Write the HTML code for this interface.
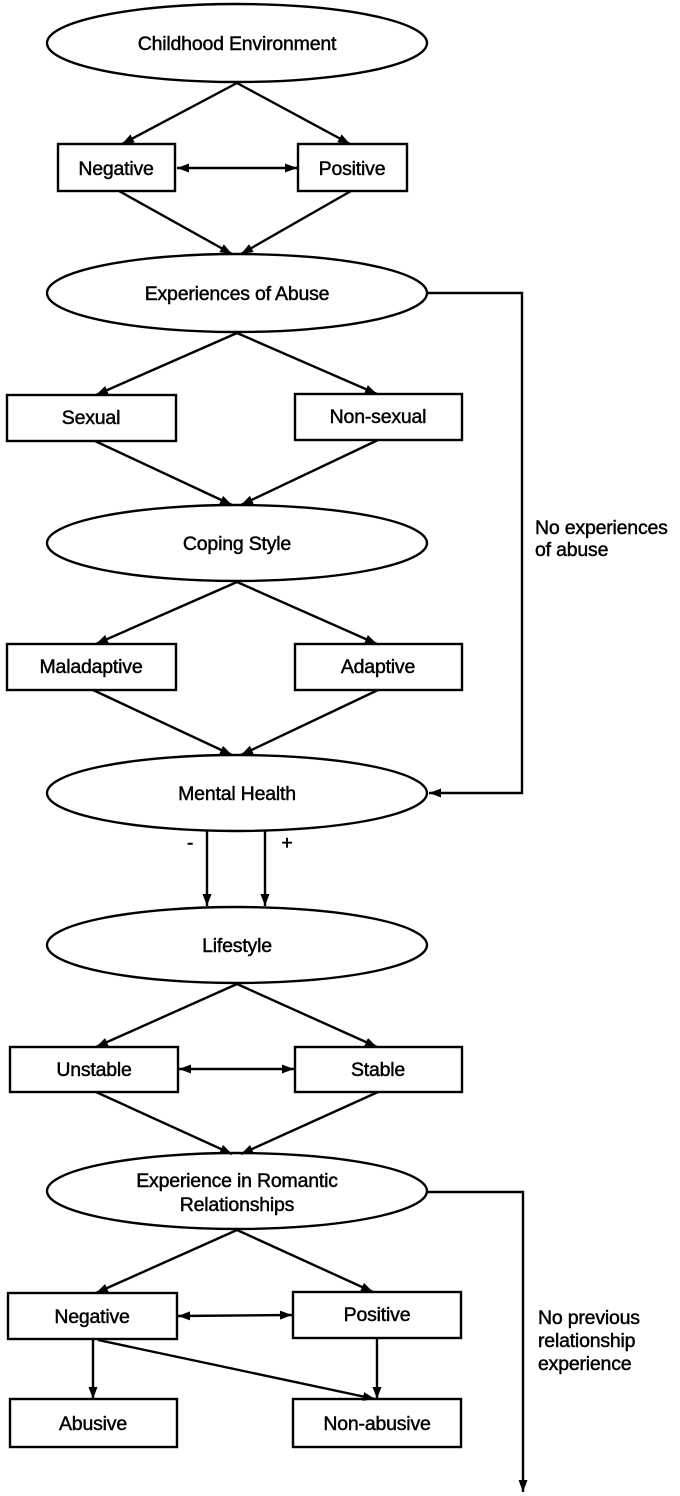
<!DOCTYPE html>
<html><head><meta charset="utf-8"><style>
html,body{margin:0;padding:0;background:#fff;}
svg{display:block;}
text{font-family:"Liberation Sans",Arial,sans-serif;font-size:19.5px;fill:#000;stroke:#000;stroke-width:0.45px;letter-spacing:-0.2px;}
</style></head><body>
<svg width="680" height="1496" viewBox="0 0 680 1496" xmlns="http://www.w3.org/2000/svg">
<defs>
<marker id="a" viewBox="0 0 12 10" refX="12" refY="5" markerWidth="12" markerHeight="10" markerUnits="userSpaceOnUse" orient="auto-start-reverse">
<path d="M0,0.5 L12,5 L0,9.5 z" fill="#000"/>
</marker>
</defs>
<g fill="#fff" stroke="#000" stroke-width="2.4">
<ellipse cx="237" cy="43" rx="190" ry="39"/>
<rect x="58" y="144" width="117" height="47"/>
<rect x="298" y="144" width="109" height="47"/>
<ellipse cx="237" cy="293" rx="190" ry="39"/>
<rect x="7" y="395" width="169" height="46"/>
<rect x="295" y="394" width="167" height="46"/>
<ellipse cx="237" cy="543" rx="190" ry="38"/>
<rect x="7" y="644" width="169" height="46"/>
<rect x="295" y="644" width="167" height="46"/>
<ellipse cx="237" cy="793" rx="190" ry="38"/>
<ellipse cx="237" cy="945" rx="190" ry="38"/>
<rect x="10" y="1047" width="168" height="45"/>
<rect x="295" y="1047" width="167" height="45"/>
<ellipse cx="237" cy="1191" rx="190" ry="38"/>
<rect x="8" y="1293" width="169" height="46"/>
<rect x="293" y="1292" width="168" height="46"/>
<rect x="10" y="1399" width="167" height="48"/>
<rect x="293" y="1399" width="168" height="48"/>
</g>
<g stroke="#000" stroke-width="2.4" fill="none" marker-end="url(#a)">
<line x1="237" y1="83" x2="122" y2="144"/>
<line x1="237" y1="83" x2="350" y2="144"/>
<line x1="177" y1="168" x2="297" y2="168" marker-start="url(#a)"/>
<line x1="119" y1="191" x2="232" y2="254"/>
<line x1="351" y1="191" x2="241" y2="254"/>
<line x1="237" y1="333" x2="96" y2="395"/>
<line x1="237" y1="333" x2="377" y2="394"/>
<line x1="95" y1="441" x2="232" y2="505"/>
<line x1="378" y1="440" x2="241" y2="505"/>
<line x1="237" y1="582" x2="96" y2="644"/>
<line x1="237" y1="582" x2="377" y2="644"/>
<line x1="93" y1="690" x2="232" y2="755"/>
<line x1="378" y1="690" x2="241" y2="755"/>
<polyline points="428,293 522,293 522,793 429,793"/>
<line x1="207" y1="831" x2="207" y2="906"/>
<line x1="265" y1="831" x2="265" y2="906"/>
<line x1="237" y1="984" x2="96" y2="1047"/>
<line x1="237" y1="984" x2="377" y2="1047"/>
<line x1="179" y1="1069" x2="294" y2="1069" marker-start="url(#a)"/>
<line x1="96" y1="1092" x2="232" y2="1154"/>
<line x1="378" y1="1092" x2="241" y2="1154"/>
<line x1="237" y1="1230" x2="96" y2="1293"/>
<line x1="237" y1="1230" x2="373" y2="1292"/>
<line x1="178" y1="1316" x2="292" y2="1315" marker-start="url(#a)"/>
<line x1="93" y1="1340" x2="93" y2="1399"/>
<line x1="98" y1="1340" x2="375" y2="1399"/>
<line x1="377" y1="1338" x2="377" y2="1399"/>
<polyline points="428,1192 523,1192 523,1492"/>
</g>
<g text-anchor="middle">
<text x="237" y="50">Childhood Environment</text>
<text x="116" y="175">Negative</text>
<text x="352" y="175">Positive</text>
<text x="237" y="300">Experiences of Abuse</text>
<text x="91" y="424">Sexual</text>
<text x="378" y="423">Non-sexual</text>
<text x="237" y="550">Coping Style</text>
<text x="91" y="673">Maladaptive</text>
<text x="378" y="673">Adaptive</text>
<text x="237" y="800">Mental Health</text>
<text x="237" y="952">Lifestyle</text>
<text x="94" y="1076">Unstable</text>
<text x="378" y="1076">Stable</text>
<text x="237" y="1187">Experience in Romantic</text>
<text x="237" y="1211">Relationships</text>
<text x="92" y="1323">Negative</text>
<text x="377" y="1321">Positive</text>
<text x="93" y="1430">Abusive</text>
<text x="377" y="1430">Non-abusive</text>
<text x="190" y="849">-</text>
<text x="287" y="849">+</text>
</g>
<text x="535" y="534">No experiences</text>
<text x="535" y="556">of abuse</text>
<text x="538" y="1324">No previous</text>
<text x="538" y="1347">relationship</text>
<text x="538" y="1370">experience</text>
</svg>
</body></html>
